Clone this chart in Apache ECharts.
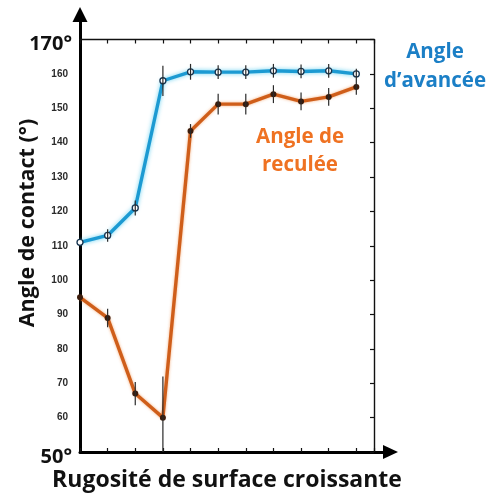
<!DOCTYPE html>
<html>
<head>
<meta charset="utf-8">
<script src="https://cdn.jsdelivr.net/npm/echarts@6/dist/echarts.min.js"></script>
<style>
  html, body { margin: 0; padding: 0; background: #fff; }
  #chart { width: 486px; height: 496px; }
</style>
</head>
<body>
<div id="chart"></div>
<script>
// Roughness steps (increasing surface roughness, no units)
const roughnessSteps = [0, 1, 2, 3, 4, 5, 6, 7, 8, 9, 10];

// Advancing contact angle (degrees) and its error half-range
const advancing    = [111, 113, 121, 158, 160.6, 160.5, 160.5, 160.9, 160.7, 160.9, 160];
const advancingErr = [0, 1.8, 2.2, 4.4, 2.3, 2, 2, 2, 2, 2, 1.5];

// Receding contact angle (degrees) and its error half-range
const receding    = [95, 89, 67, 60, 143.4, 151.2, 151.2, 154.1, 152, 153.3, 156.2];
const recedingErr = [0, 2.7, 3.4, 12, 2, 3, 3, 2.6, 2.6, 2.6, 2.3];

// Y scale: end labels carry the degree sign, inner labels are plain numbers
const yRange = [50, 170];
const yStep = 10;
const xRange = [0, 10.64];

const FONT = '"Open Sans", Lato, sans-serif';
const BLUE_LINE = '#1c9ad2';
const ORANGE_LINE = '#cf5e1a';

const chart = echarts.init(document.getElementById('chart'), null, { renderer: 'canvas' });

function pairs(values, errs) {
  return roughnessSteps.map((x, i) => errs ? [x, values[i], errs[i]] : [x, values[i]]);
}

function errorBar(params, api) {
  const x = api.value(0), y = api.value(1), e = api.value(2);
  if (!e) return null;
  const lo = Math.max(y - e, yRange[0]);
  const top = api.coord([x, y + e]);
  const bot = api.coord([x, lo]);
  return {
    type: 'line',
    shape: { x1: top[0], y1: top[1], x2: bot[0], y2: bot[1] },
    style: { stroke: '#2a2a2a', lineWidth: 1.2 }
  };
}

const option = {
  backgroundColor: '#fff',
  animation: false,
  grid: [
    // outer grid: the two thick arrowed axes
    { left: 80, right: 95.5, top: 14.5, bottom: 44 },
    // plotting frame
    { left: 80, right: 112, top: 39.5, bottom: 44 }
  ],
  xAxis: [
    {
      gridIndex: 0, type: 'value', min: 0, max: 1, position: 'bottom',
      axisLine: { show: true, onZero: false, symbol: ['none', 'triangle'], symbolSize: [14, 15],
                  lineStyle: { color: '#000', width: 3 } },
      axisTick: { show: false }, axisLabel: { show: false }, splitLine: { show: false }
    },
    {
      gridIndex: 1, type: 'value', min: xRange[0], max: xRange[1], interval: 1, position: 'bottom',
      axisLine: { show: false, onZero: false },
      axisTick: { show: true, inside: true, length: 4, lineStyle: { color: '#111', width: 1.2 } },
      axisLabel: { show: false }, splitLine: { show: false }
    },
    {
      gridIndex: 1, type: 'value', min: xRange[0], max: xRange[1], interval: 1, position: 'top',
      axisLine: { show: true, onZero: false, lineStyle: { color: '#111', width: 1.4 } },
      axisTick: { show: true, inside: true, length: 4, lineStyle: { color: '#111', width: 1.2 } },
      axisLabel: { show: false }, splitLine: { show: false }
    }
  ],
  yAxis: [
    {
      gridIndex: 0, type: 'value', min: 0, max: 1, position: 'left',
      axisLine: { show: true, onZero: false, symbol: ['none', 'triangle'], symbolSize: [15, 15],
                  lineStyle: { color: '#000', width: 3 } },
      axisTick: { show: false }, axisLabel: { show: false }, splitLine: { show: false }
    },
    {
      gridIndex: 1, type: 'value', min: yRange[0], max: yRange[1], interval: yStep, position: 'left',
      axisLine: { show: false, onZero: false },
      axisTick: { show: false },
      splitLine: { show: false },
      axisLabel: {
        show: true, margin: 8,
        formatter: v => (v === yRange[0] || v === yRange[1]) ? '{big|' + v + '°}' : '{s|' + v + '}',
        rich: {
          big: { fontFamily: FONT, fontWeight: 'bold', fontSize: 20, color: '#111', padding: [10, 0, 0, 0] },
          s: { fontFamily: '"Liberation Sans", Arial, sans-serif', fontWeight: 'bold', fontSize: 10,
               color: '#2b2b2b', padding: [0, 4, 0, 0] }
        }
      }
    },
    {
      gridIndex: 1, type: 'value', min: yRange[0], max: yRange[1], interval: yStep, position: 'right',
      axisLine: { show: true, onZero: false, lineStyle: { color: '#111', width: 1.4 } },
      axisTick: { show: true, inside: true, length: 4, lineStyle: { color: '#111', width: 1.2 } },
      axisLabel: { show: false }, splitLine: { show: false }
    }
  ],
  series: [
    {
      name: 'Angle de reculée', type: 'line', xAxisIndex: 1, yAxisIndex: 1,
      data: pairs(receding), z: 2,
      symbol: 'circle', symbolSize: 6,
      lineStyle: { color: ORANGE_LINE, width: 3.4, shadowColor: 'rgba(240,140,70,0.7)', shadowBlur: 3 },
      itemStyle: { color: '#3b1c0c', borderColor: '#3b1c0c', borderWidth: 0 }
    },
    {
      name: 'Angle d’avancée', type: 'line', xAxisIndex: 1, yAxisIndex: 1,
      data: pairs(advancing), z: 2,
      symbol: 'circle', symbolSize: 6,
      lineStyle: { color: BLUE_LINE, width: 3.4, shadowColor: 'rgba(90,205,240,0.9)', shadowBlur: 4 },
      itemStyle: { color: '#ffffff', borderColor: '#17344f', borderWidth: 1.3 }
    },
    {
      type: 'custom', xAxisIndex: 1, yAxisIndex: 1, z: 4,
      data: pairs(receding, recedingErr), renderItem: errorBar, encode: { x: 0, y: 1 }
    },
    {
      type: 'custom', xAxisIndex: 1, yAxisIndex: 1, z: 4,
      data: pairs(advancing, advancingErr), renderItem: errorBar, encode: { x: 0, y: 1 }
    }
  ],
  graphic: [
    {
      type: 'text', x: 435, y: 67,
      style: { text: 'Angle\nd’avancée', fill: '#1b7fc6', font: 'bold 20.5px ' + FONT,
               align: 'center', verticalAlign: 'middle', lineHeight: 29 }
    },
    {
      type: 'text', x: 300, y: 151,
      style: { text: 'Angle de\nreculée', fill: '#ef7222', font: 'bold 20.5px ' + FONT,
               align: 'center', verticalAlign: 'middle', lineHeight: 28 }
    },
    {
      type: 'text', x: 28, y: 223, rotation: Math.PI / 2,
      style: { text: 'Angle de contact (°)', fill: '#111', font: 'bold 21.5px ' + FONT,
               align: 'center', verticalAlign: 'middle' }
    },
    {
      type: 'text', x: 227, y: 480,
      style: { text: 'Rugosité de surface croissante', fill: '#111', font: 'bold 23px ' + FONT,
               align: 'center', verticalAlign: 'middle' }
    }
  ]
};

chart.setOption(option);
</script>
</body>
</html>
